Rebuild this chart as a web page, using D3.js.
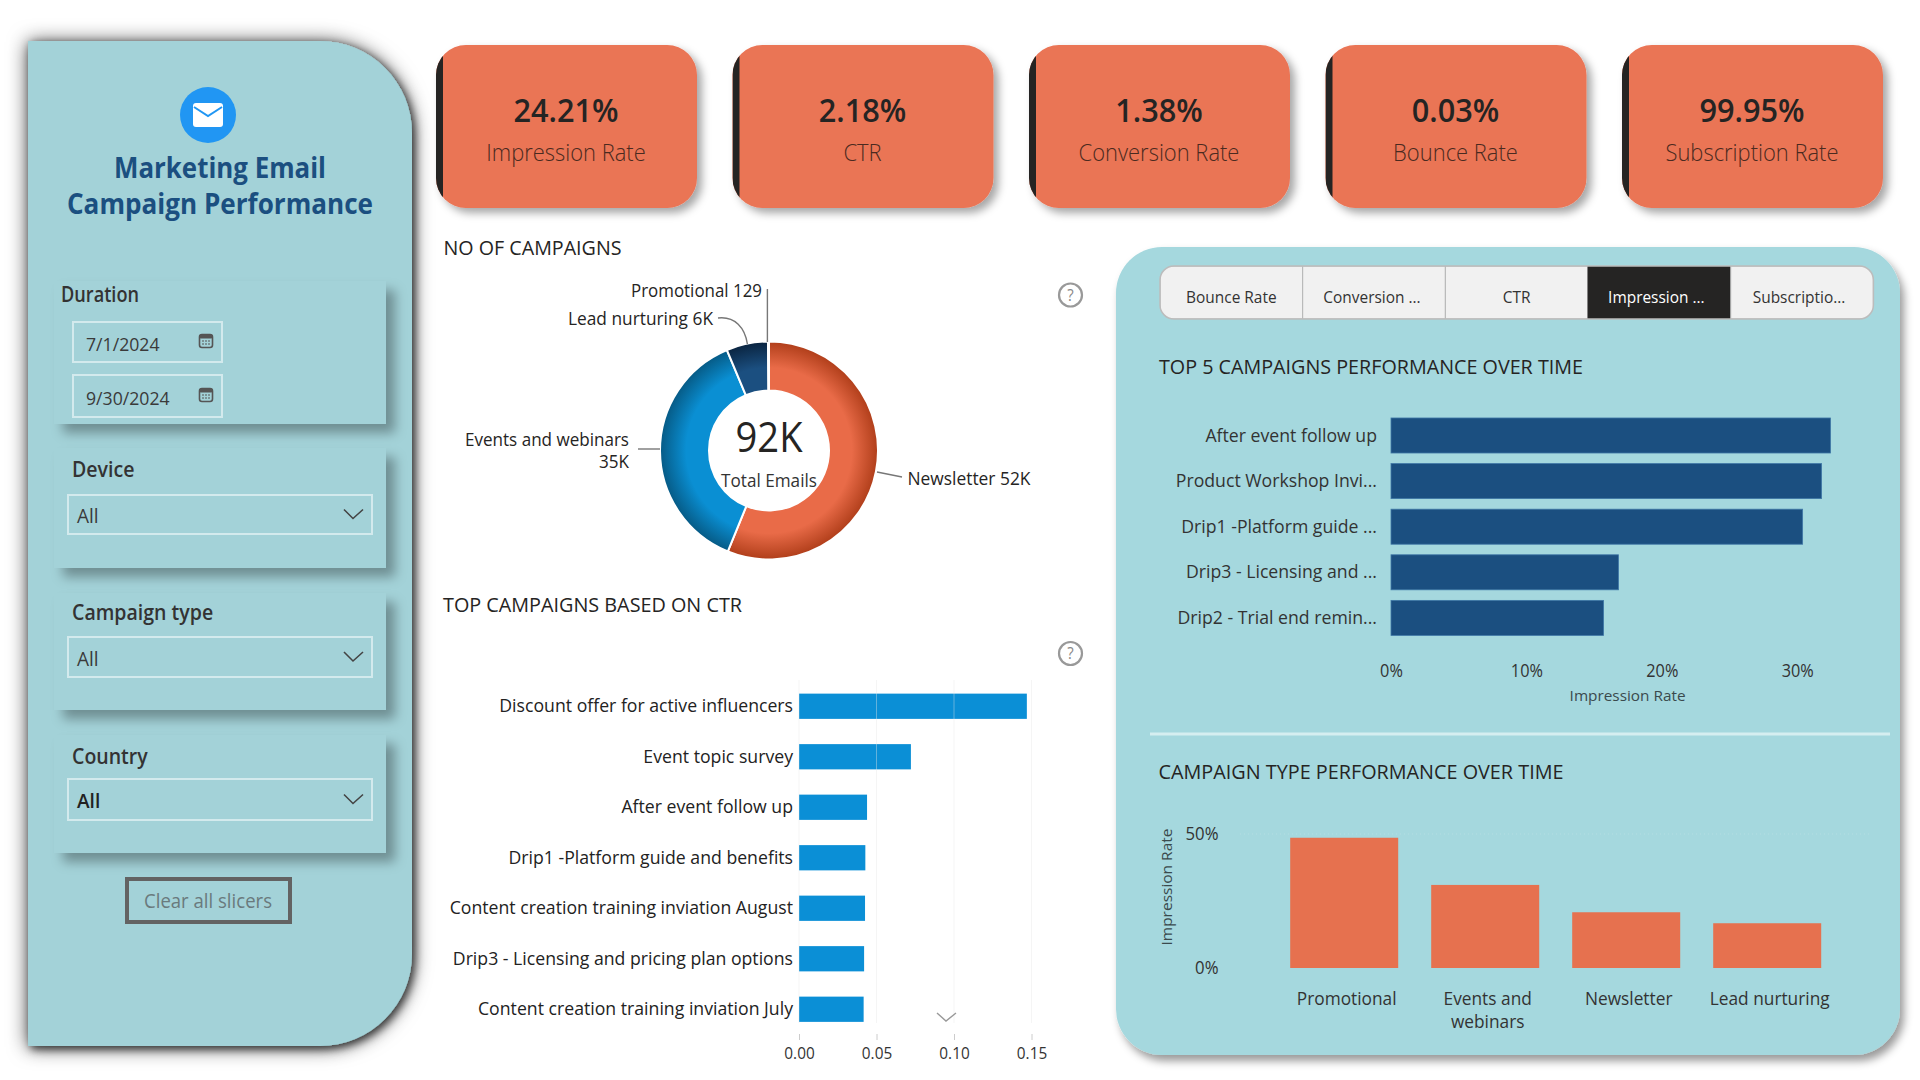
<!DOCTYPE html>
<html><head><meta charset="utf-8">
<script src="https://cdn.jsdelivr.net/npm/d3@7"></script>
<style>
html,body{margin:0;padding:0;background:#fff}
svg{display:block}
text{font-family:"Open Sans","Noto Sans",sans-serif}
</style></head><body>
<svg id="c" width="1920" height="1080"></svg>
<script>
const kpiValues=["24.21%","2.18%","1.38%","0.03%","99.95%"];
const kpiLabels=["Impression Rate","CTR","Conversion Rate","Bounce Rate","Subscription Rate"];
const donutNames=["Newsletter","Events and webinars","Lead nurturing","Promotional"];
const donutValues=[51800,34600,5700,129];
const ctrNames=["Discount offer for active influencers","Event topic survey","After event follow up","Drip1 -Platform guide and benefits","Content creation training inviation August","Drip3 - Licensing and pricing plan options","Content creation training inviation July"];
const ctrValues=[0.147,0.0722,0.0439,0.0428,0.0426,0.042,0.0417];
const ctrTicks=[0,0.05,0.10,0.15];
const tabNames=["Bounce Rate","Conversion ...","CTR","Impression ...","Subscriptio..."];
const topNames=["After event follow up","Product Workshop Invi...","Drip1 -Platform guide ...","Drip3 - Licensing and ...","Drip2 - Trial end remin..."];
const topValues=[32.46,31.8,30.4,16.8,15.7];
const topTicks=[0,10,20,30];
const typeNames=["Promotional","Events and webinars","Newsletter","Lead nurturing"];
const typeValues=[48.6,31,20.8,16.7];
const typeTicks=[0,50];
const slicers=["Device","Campaign type","Country"];

const svg=d3.select("#c");
const defs=svg.append("defs");
function shadow(id,dx,dy,sd,op){
  const f=defs.append("filter").attr("id",id).attr("x","-20%").attr("y","-20%").attr("width","145%").attr("height","145%");
  f.append("feDropShadow").attr("dx",dx).attr("dy",dy).attr("stdDeviation",sd).attr("flood-color","#000").attr("flood-opacity",op);
}
shadow("sPanelWide",0,1,10,.72);
shadow("sPanel",3,3,4,.65);
shadow("sCard",9,9,6,.32);
shadow("sKpi",5,5,4,.35);
shadow("sRight",4,6,4,.4);

const K=0.93;
function t(p,x,y,s,o={}){
  const e=p.append("text").attr("x",x).attr("y",y-1.2).attr("dominant-baseline","central")
   .attr("text-anchor",o.a||"start").attr("font-size",o.s||17).attr("font-weight",o.b||400)
   .attr("fill",o.c||"#252423").text(s);
  if(o.w) e.attr("data-w",o.w);
  return e;
}
function roundR(x0,y0,x1,y1,r){
  return `M${x0},${y0}H${x1-r}A${r},${r} 0 0 1 ${x1},${y0+r}V${y1-r}A${r},${r} 0 0 1 ${x1-r},${y1}H${x0}Z`;
}

/* left panel */
const left=svg.append("g");
left.append("path").attr("d",roundR(28,41,412,1046,92)).attr("fill","#A3D2D8").attr("filter","url(#sPanelWide)");
left.append("path").attr("d",roundR(28,41,412,1046,92)).attr("fill","#A3D2D8").attr("filter","url(#sPanel)");
left.append("circle").attr("cx",208).attr("cy",115).attr("r",28).attr("fill","#2196F3");
left.append("rect").attr("x",193).attr("y",103).attr("width",30).attr("height",24).attr("rx",3).attr("fill","#fff");
left.append("path").attr("d","M194,107L208,116L222,107").attr("fill","none").attr("stroke","#2196F3").attr("stroke-width",2);
t(left,220,168,"Marketing Email",{a:"middle",s:28,b:700,c:"#1B4F80",w:212});
t(left,220,204,"Campaign Performance",{a:"middle",s:28,b:700,c:"#1B4F80",w:306});

function card(y0,y1){
  left.append("rect").attr("x",54).attr("y",y0).attr("width",332).attr("height",y1-y0).attr("fill","#A3D2D8").attr("filter","url(#sCard)");
}
card(281,424);card(448,568);card(593,710);card(735,853);
const boxStroke="#D3EAED";
t(left,61,295,"Duration",{s:21,b:600,c:"#333",w:78});
function dateBox(y0,y1,label){
  left.append("rect").attr("x",73).attr("y",y0).attr("width",149).attr("height",y1-y0).attr("fill","none").attr("stroke",boxStroke).attr("stroke-width",2);
  t(left,86,(y0+y1)/2+3,label,{s:19,c:"#3a3a3a"});
  const cy=(y0+y1)/2-1;
  left.append("rect").attr("x",199.5).attr("y",cy-6.5).attr("width",13).attr("height",13).attr("rx",2.5).attr("fill","#A3D2D8").attr("stroke","#555").attr("stroke-width",1.6);
  left.append("rect").attr("x",199.5).attr("y",cy-6.5).attr("width",13).attr("height",4).attr("rx",1.5).attr("fill","#555");
  left.append("path").attr("d",`M202,${cy}h8M202,${cy+3}h8`).attr("stroke","#555").attr("stroke-width",1).attr("stroke-dasharray","2 1");
}
dateBox(322,362,"7/1/2024");
dateBox(375,417,"9/30/2024");
const slY=[[470,495,534],[613,637,677],[757,779,820]];
slicers.forEach((n,i)=>{
  const [ly,y0,y1]=slY[i];
  t(left,72,ly+.6,n,{s:21,b:600,c:"#333"});
  left.append("rect").attr("x",68).attr("y",y0).attr("width",304).attr("height",y1-y0).attr("fill","none").attr("stroke",boxStroke).attr("stroke-width",2);
  t(left,77,(y0+y1)/2+2,"All",{s:20.5,b:i==2?600:400,c:i==2?"#222":"#3a3a3a"});
  const c=(y0+y1)/2-1;
  left.append("path").attr("d",`M344,${c-4}L353,${c+5}L363,${c-4}`).attr("fill","none").attr("stroke","#444").attr("stroke-width",1.6);
});
left.append("rect").attr("x",127).attr("y",879).attr("width",163).attr("height",43).attr("fill","none").attr("stroke","#636363").attr("stroke-width",4);
t(left,208,902,"Clear all slicers",{a:"middle",s:20,c:"#6a7a7d",w:128});

/* KPI row */
const kpiX=d3.scaleBand().domain(d3.range(5)).range([436,436+5*296.5]);
defs.append("clipPath").attr("id","kpiClip").append("rect").attr("width",261).attr("height",163).attr("rx",30);
const kpi=svg.append("g").selectAll("g").data(kpiValues).join("g").attr("transform",(d,i)=>`translate(${kpiX(i)},45)`);
kpi.append("rect").attr("width",261).attr("height",163).attr("rx",30).attr("fill","#EA7455").attr("filter","url(#sKpi)");
kpi.append("g").attr("clip-path","url(#kpiClip)").append("rect").attr("width",7).attr("height",163).attr("fill","#252423");
kpi.each(function(d,i){
  const g=d3.select(this);
  t(g,130,65.5,d,{a:"middle",s:33,b:600,c:"#252423"});
  t(g,130,108,kpiLabels[i],{a:"middle",s:23.6,b:300,c:"#4a2a20"});
});

/* donut */
const cx=769,cy=450.5,rO=109,rI=60;
const mid=svg.append("g");
t(mid,443.5,249,"NO OF CAMPAIGNS",{s:20,b:500,w:178});
const grads=[["gN","#E96B48","#E96B48","#B03E1A"],["gE","#0A8FD3","#0A8FD3","#065A85"],["gL","#1B4F80","#1B4F80","#0A2440"],["gP","#1B4F80","#1B4F80","#0A2440"]];
grads.forEach(([id,a,b,c])=>{
  const g=defs.append("radialGradient").attr("id",id).attr("gradientUnits","userSpaceOnUse").attr("cx",0).attr("cy",0).attr("r",rO);
  g.append("stop").attr("offset","0").attr("stop-color",a);
  g.append("stop").attr("offset","0.76").attr("stop-color",b);
  g.append("stop").attr("offset","1").attr("stop-color",c);
});
const pie=d3.pie().sort(null);
const arc=d3.arc().innerRadius(rI).outerRadius(rO);
const dg=mid.append("g").attr("transform",`translate(${cx},${cy})`);
dg.selectAll("path").data(pie(donutValues)).join("path").attr("d",arc)
  .attr("fill",(d,i)=>`url(#${grads[i][0]})`).attr("stroke","#fff").attr("stroke-width",2);
t(mid,cx,437,"92K",{a:"middle",s:42,c:"#252423",w:67});
t(mid,cx,481,"Total Emails",{a:"middle",s:18,c:"#333",w:96});
const leader=mid.append("g").attr("fill","none").attr("stroke","#777").attr("stroke-width",1.4);
leader.append("path").attr("d","M767.4,289L767.4,342");
leader.append("path").attr("d","M718,318C735,316 745,328 747.4,344");
leader.append("path").attr("d","M638,449L660,449");
leader.append("path").attr("d","M877,472L902,477");
const fmtK=v=>v<1000?String(v):Math.round(v/1000)+"K";
t(mid,762,291,`${donutNames[3]} ${fmtK(donutValues[3])}`,{a:"end",s:18.5,b:500,w:131});
t(mid,713,319,`${donutNames[2]} ${fmtK(donutValues[2])}`,{a:"end",s:18.5,b:500,w:145});
t(mid,629,439.5,donutNames[1],{a:"end",s:18.5,b:500,w:164});
t(mid,629,461.5,fmtK(donutValues[1]),{a:"end",s:18.5,b:500,w:30});
t(mid,907.5,478.5,`${donutNames[0]} ${fmtK(donutValues[0])}`,{s:18.5,b:500,w:123});

function help(cy){
  mid.append("circle").attr("cx",1070.5).attr("cy",cy).attr("r",11.5).attr("fill","none").attr("stroke","#999").attr("stroke-width",2.2);
  t(mid,1070.5,cy+1,"?",{a:"middle",s:16,c:"#888"});
}
help(295);help(653.5);

/* CTR chart */
t(mid,443,606,"TOP CAMPAIGNS BASED ON CTR",{s:20,b:500,w:299});
const xC=d3.scaleLinear().domain([0,0.15]).range([799,1031.5]);
const yC=d3.scaleBand().domain(ctrNames).range([681,1034.5]).paddingInner(0.5).paddingOuter(0.25);
const gC=svg.append("g");
gC.selectAll("rect").data(ctrValues).join("rect").attr("x",xC(0)).attr("y",(d,i)=>yC(ctrNames[i])).attr("width",d=>xC(d)-xC(0)).attr("height",yC.bandwidth()).attr("fill","#0B8FD6");
gC.append("g").selectAll("line").data(ctrTicks).join("line").attr("x1",d=>xC(d)).attr("x2",d=>xC(d)).attr("y1",680).attr("y2",1023).attr("stroke","#e6e6e6").attr("stroke-opacity",.4);
const axC=gC.append("g").attr("transform","translate(0,1034)").call(d3.axisBottom(xC).tickValues(ctrTicks).tickFormat(d3.format(".2f")).tickSize(6).tickPadding(7));
axC.select(".domain").remove();axC.selectAll("line").attr("stroke","#ccc");
axC.selectAll("text").attr("font-size",16.5).attr("fill","#333");
const ayC=gC.append("g").attr("transform","translate(799,0)").call(d3.axisLeft(yC).tickSize(0).tickPadding(6));
ayC.select(".domain").remove();
ayC.selectAll("text").attr("font-size",19).attr("font-weight",500).attr("fill","#222");
gC.append("path").attr("d","M937,1013L946,1021L956,1013").attr("fill","none").attr("stroke","#999").attr("stroke-width",1.4);

/* right panel */
const right=svg.append("g");
right.append("rect").attr("x",1116).attr("y",247).attr("width",784).attr("height",808).attr("rx",46).attr("fill","#A5D8DE").attr("filter","url(#sRight)");
const tabX=d3.scaleBand().domain(tabNames).range([1160,1873.4]);
const clip=defs.append("clipPath").attr("id","tabClip");
clip.append("rect").attr("x",1160).attr("y",266).attr("width",713.4).attr("height",53).attr("rx",14);
const tabs=right.append("g").attr("clip-path","url(#tabClip)");
tabs.selectAll("rect").data(tabNames).join("rect").attr("x",d=>tabX(d)).attr("y",266).attr("width",tabX.bandwidth()).attr("height",53)
  .attr("fill",(d,i)=>i==3?"#252423":"#F1F1F1").attr("stroke",(d,i)=>i==3?"#252423":"#b5b5b5").attr("stroke-width",1);
right.append("rect").attr("x",1160).attr("y",266).attr("width",713.4).attr("height",53).attr("rx",14).attr("fill","none").attr("stroke","#bcbcbc").attr("stroke-width",1.5);
tabNames.forEach((n,i)=>t(right,tabX(n)+tabX.bandwidth()/2-(i==3?3:i==4?3:i==1?2:0),297.6,n,{a:"middle",s:16.6,b:500,c:i==3?"#fff":"#333"}));

t(right,1159,367.6,"TOP 5 CAMPAIGNS PERFORMANCE OVER TIME",{s:20,b:500,w:424});
const xT=d3.scaleLinear().domain([0,30]).range([1391,1797.2]);
const yT=d3.scaleBand().domain(topNames).range([412.7,640.7]).paddingInner(0.232).paddingOuter(0.116);
right.append("g").selectAll("rect").data(topValues).join("rect").attr("x",xT(0)).attr("y",(d,i)=>yT(topNames[i])).attr("width",d=>xT(d)-xT(0)).attr("height",yT.bandwidth()).attr("fill","#1B4F80").attr("stroke","#3f77a6").attr("stroke-width",.8);
const axT=right.append("g").attr("transform","translate(0,660)").call(d3.axisBottom(xT).tickValues(topTicks).tickFormat(d=>d+"%").tickSize(0).tickPadding(5));
axT.select(".domain").remove();axT.selectAll("text").attr("font-size",17.5).attr("fill","#333");
const ayT=right.append("g").attr("transform","translate(1391,0)").call(d3.axisLeft(yT).tickSize(0).tickPadding(14));
ayT.select(".domain").remove();ayT.selectAll("text").attr("font-size",19).attr("fill","#333");
t(right,1627.6,696,"Impression Rate",{a:"middle",s:15,c:"#3a4a4d",w:116});

right.append("line").attr("x1",1150).attr("x2",1890).attr("y1",734).attr("y2",734).attr("stroke","#D5EEF0").attr("stroke-width",3);
t(right,1158.5,772.6,"CAMPAIGN TYPE PERFORMANCE OVER TIME",{s:20,b:500,w:405});

const yB=d3.scaleLinear().domain([0,50]).range([968,834]);
const xB=d3.scaleBand().domain(typeNames).range([1273.7,1837.7]).paddingInner(0.234).paddingOuter(0.117);
right.append("line").attr("x1",1240).attr("x2",1870).attr("y1",yB(50)).attr("y2",yB(50)).attr("stroke","#B4DEE3").attr("stroke-dasharray","1 3");
right.append("g").selectAll("rect").data(typeValues).join("rect").attr("x",(d,i)=>xB(typeNames[i])).attr("y",d=>yB(d)).attr("width",xB.bandwidth()).attr("height",d=>yB(0)-yB(d)).attr("fill","#E6714F");
const ayB=right.append("g").attr("transform","translate(1218.5,0)").call(d3.axisLeft(yB).tickValues(typeTicks).tickFormat(d=>d+"%").tickSize(0).tickPadding(0));
ayB.select(".domain").remove();ayB.selectAll("text").attr("font-size",18).attr("fill","#333");
typeNames.forEach(n=>{
  const c=xB(n)+xB.bandwidth()/2+2.5;
  if(n==="Events and webinars"){
    t(right,c,999,"Events and",{a:"middle",s:18.6,c:"#333"});
    t(right,c,1022,"webinars",{a:"middle",s:18.6,c:"#333"});
  } else t(right,c,999,n,{a:"middle",s:18.6,c:"#333"});
});
t(right,0,0,"Impression Rate",{a:"middle",s:14,c:"#3a4a4d",w:117}).attr("transform","translate(1168,887) rotate(-90)");

/* condense to the narrower look of the original face */
svg.selectAll("text").each(function(){
  const e=d3.select(this),w=e.attr("data-w");
  const L=this.getComputedTextLength();
  e.attr("textLength",w?+w:L*K).attr("lengthAdjust","spacingAndGlyphs");
});
</script>
</body></html>
